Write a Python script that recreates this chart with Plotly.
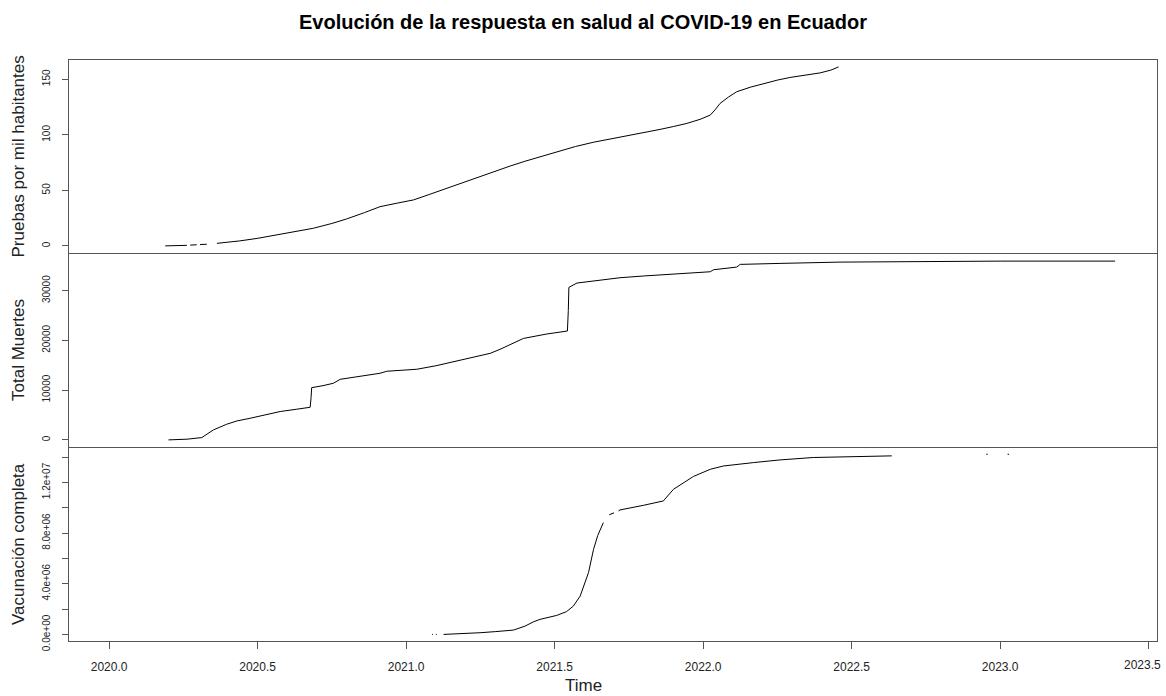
import plotly.graph_objects as go

# ---------------- data (decimal years) ----------------
pruebas_t = [2020.189, 2020.262, 2020.268, 2020.273, 2020.295, 2020.300, 2020.306, 2020.329, 2020.334,
             2020.338, 2020.342, 2020.346, 2020.349, 2020.352, 2020.357, 2020.363, 2020.40, 2020.44,
             2020.50, 2020.553, 2020.62, 2020.688, 2020.75, 2020.80, 2020.86, 2020.912, 2020.97,
             2021.025, 2021.08, 2021.137, 2021.18, 2021.227, 2021.28, 2021.35, 2021.40, 2021.45,
             2021.518, 2021.57, 2021.63, 2021.69, 2021.743, 2021.80, 2021.855, 2021.90, 2021.945,
             2021.99, 2022.024, 2022.04, 2022.057, 2022.085, 2022.113, 2022.16, 2022.203, 2022.25,
             2022.293, 2022.34, 2022.394, 2022.43, 2022.456]
pruebas_v = [0.0, 0.5, None, 0.7, 1.0, None, 1.2, 1.5, None,
             1.7, None, 1.9, None, 2.0, None, 2.3, 3.3, 4.5,
             6.8, 9.3, 12.5, 15.9, 20.2, 24.3, 30.0, 35.3, 38.5,
             41.4, 46.5, 51.9, 56.0, 60.9, 65.5, 71.9, 76.2, 80.3,
             85.7, 89.5, 93.3, 96.3, 98.9, 101.9, 104.9, 107.5, 110.3,
             114.0, 117.8, 122.5, 128.3, 134.0, 138.8, 143.0, 146.3, 149.3,
             151.7, 153.8, 155.8, 158.3, 161.2]

muertes_t = [2020.200, 2020.262, 2020.312, 2020.330, 2020.351, 2020.396, 2020.43, 2020.475, 2020.52,
             2020.576, 2020.63, 2020.677, 2020.680, 2020.682, 2020.72, 2020.755, 2020.778, 2020.84,
             2020.912, 2020.935, 2021.036, 2021.10, 2021.17, 2021.23, 2021.283, 2021.316, 2021.395,
             2021.474, 2021.543, 2021.546, 2021.548, 2021.575, 2021.65, 2021.72, 2021.80, 2021.889,
             2021.96, 2022.024, 2022.035, 2022.08, 2022.113, 2022.125, 2022.158, 2022.259, 2022.461,
             2022.697, 2022.70, 2023.0, 2023.387]
muertes_v = [0, 140, 460, 1200, 2000, 3150, 3800, 4350, 5000,
             5700, 6150, 6560, 8500, 10500, 10900, 11380, 12180, 12700,
             13390, 13800, 14200, 14900, 15860, 16600, 17400, 18200, 20400,
             21290, 21890, 26000, 30660, 31530, 32100, 32600, 32950, 33270,
             33550, 33800, 34200, 34500, 34740, 35280, 35300, 35480, 35740,
             35800, 35940, 35940, 35940]

vacuna_t = [2021.087, 2021.090, 2021.095, 2021.100, 2021.103, 2021.114, 2021.126, 2021.18, 2021.249,
            2021.30, 2021.361, 2021.40, 2021.429, 2021.451, 2021.48, 2021.507, 2021.54, 2021.563,
            2021.586, 2021.60, 2021.614, 2021.631, 2021.645, 2021.664, 2021.674, 2021.684, 2021.700,
            2021.708, 2021.715, 2021.72, 2021.80, 2021.866, 2021.90, 2021.934, 2021.967, 2022.024,
            2022.068, 2022.17, 2022.259, 2022.371, 2022.529, 2022.635, 2022.80, 2022.953, 2022.958,
            2022.99, 2023.025, 2023.030]
vacuna_v = [0, 0, None, 0, 0, None, 0, 40000, 134000,
            220000, 340000, 650000, 1000000, 1190000, 1350000, 1500000, 1800000, 2240000,
            3030000, 3900000, 4880000, 6720000, 7800000, 8830000, None, 9450000, 9600000,
            None, 9750000, 9830000, 10200000, 10540000, 11460000, 12000000, 12470000, 13040000,
            13300000, 13570000, 13780000, 13970000, 14070000, 14100000, None, 14230000, 14230000,
            None, 14230000, 14230000]

x_ticks = [2020.0, 2020.5, 2021.0, 2021.5, 2022.0, 2022.5, 2023.0, 2023.5]
y1_ticks = [0, 50, 100, 150]
y2_ticks = [0, 10000, 20000, 30000]
y3_ticks = [0, 2e6, 4e6, 6e6, 8e6, 1e7, 1.2e7, 1.4e7]
y3_labels = ["0.0e+00", "", "4.0e+06", "", "8.0e+06", "", "1.2e+07", ""]

title_text = "Evolución de la respuesta en salud al COVID-19 en Ecuador"
y_titles = ["Pruebas por mil habitantes", "Total Muertes", "Vacunación completa"]
x_title = "Time"

# ---------------- layout geometry ----------------
W, H = 1166, 696
left, right = 69, 1157
p_top = [60, 253, 447]
p_bot = [253, 447, 641]

def py(v):
    return 1 - v / H

xdom = [left / W, right / W]
xr = [2019.865, 2023.528]
yranges = [[-6.4, 167.4], [-1430, 37570], [-520000, 14800000]]

FONT = "Liberation Sans, Arial, sans-serif"
AX = "#555555"

fig = go.Figure()
series = [(pruebas_t, pruebas_v), (muertes_t, muertes_v), (vacuna_t, vacuna_v)]
for i, (t, v) in enumerate(series):
    fig.add_trace(go.Scatter(x=t, y=v, mode="lines", line=dict(color="black", width=1),
                             connectgaps=False, showlegend=False,
                             xaxis="x" if i == 0 else f"x{i+1}",
                             yaxis="y" if i == 0 else f"y{i+1}"))

layout = dict(width=W, height=H, margin=dict(l=0, r=0, t=0, b=0, autoexpand=False),
              paper_bgcolor="white", plot_bgcolor="white",
              font=dict(family=FONT, color="black"), showlegend=False)

ytickcfg = [
    dict(tickvals=y1_ticks, ticktext=[str(v) for v in y1_ticks]),
    dict(tickvals=y2_ticks, ticktext=[str(v) for v in y2_ticks]),
    dict(tickvals=y3_ticks, ticktext=y3_labels),
]

# last x label would overflow the page edge in plotly; it is drawn as an annotation instead
x_labels = [f"{v:.1f}" for v in x_ticks]
x_labels_axis = x_labels[:-1] + [""]

for i in range(3):
    xk = "xaxis" if i == 0 else f"xaxis{i+1}"
    yk = "yaxis" if i == 0 else f"yaxis{i+1}"
    ya = "y" if i == 0 else f"y{i+1}"
    xa = "x" if i == 0 else f"x{i+1}"
    bottom = (i == 2)
    layout[xk] = dict(domain=xdom, range=xr, anchor=ya, showgrid=False, zeroline=False,
                      showline=True, linecolor=AX, linewidth=1, mirror=(i == 0),
                      ticks="outside" if bottom else "", ticklen=7, tickcolor=AX, tickwidth=1,
                      showticklabels=bottom, tickvals=x_ticks,
                      ticktext=x_labels_axis, ticklabelstandoff=8,
                      tickfont=dict(size=12, color="#222"), automargin=False)
    layout[yk] = dict(domain=[py(p_bot[i]), py(p_top[i])], range=yranges[i], anchor=xa,
                      showgrid=False, zeroline=False, showline=True, linecolor=AX,
                      linewidth=1, mirror=True, ticks="outside", ticklen=6, tickcolor=AX,
                      tickwidth=1, tickangle=-90, ticklabelstandoff=8,
                      tickfont=dict(size=10, color="#222"), automargin=False, **ytickcfg[i])

fig.update_layout(**layout)

ann = [dict(text=f"<b>{title_text}</b>", x=0.5, y=py(22), xref="paper", yref="paper",
            xanchor="center", yanchor="middle", showarrow=False,
            font=dict(size=20, family=FONT, color="black")),
       dict(text=x_title, x=0.5, y=py(685), xref="paper", yref="paper",
            xanchor="center", yanchor="middle", showarrow=False,
            font=dict(size=17, family=FONT, color="#222")),
       dict(text=x_labels[-1], x=1163 / W, y=py(664.5), xref="paper", yref="paper",
            xanchor="right", yanchor="middle", showarrow=False,
            font=dict(size=12, family=FONT, color="#222"))]
for i in range(3):
    ann.append(dict(text=y_titles[i], x=18 / W, y=py((p_top[i] + p_bot[i]) / 2),
                    xref="paper", yref="paper", xanchor="center", yanchor="middle",
                    textangle=-90, showarrow=False,
                    font=dict(size=17, family=FONT, color="#222")))
fig.update_layout(annotations=ann)

fig.write_html("out.html")
